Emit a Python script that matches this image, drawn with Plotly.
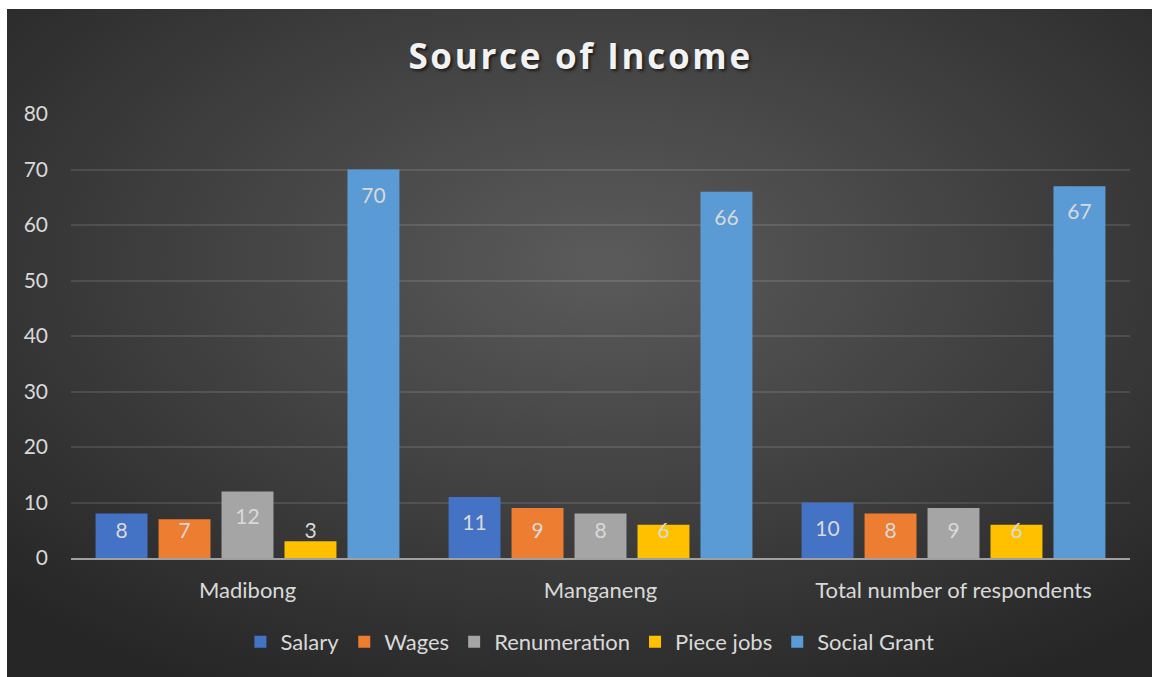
import base64
import plotly.graph_objects as go

categories = ["Madibong", "Manganeng", "Total number of respondents"]
series_names = ["Salary", "Wages", "Renumeration", "Piece jobs", "Social Grant"]
salary = [8, 11, 10]
wages = [7, 9, 8]
renumeration = [12, 8, 9]
piece_jobs = [3, 6, 6]
social_grant = [70, 66, 67]
y_ticks = [0, 10, 20, 30, 40, 50, 60, 70, 80]

values = [salary, wages, renumeration, piece_jobs, social_grant]
colors = ["#4472C4", "#ED7D31", "#A5A5A5", "#FFC000", "#5B9BD5"]

FONT = "Lato"
W, H = 1152, 677
L, R, T, B = 71, 22, 114, 119
pw, ph = W - L - R, H - T - B

fig = go.Figure()
for name, vals, col in zip(series_names, values, colors):
    fig.add_trace(go.Bar(
        x=categories, y=vals, name=name, offsetgroup=name,
        marker=dict(color=col, line=dict(width=0)),
        hoverinfo="x+y+name",
    ))
# data labels (Excel "inside end" style)
for name, vals in zip(series_names, values):
    fig.add_trace(go.Scatter(
        x=categories, y=[max(v - 5.0, 4.5) for v in vals],
        mode="text", text=[str(v) for v in vals], offsetgroup=name,
        textposition="middle center",
        textfont=dict(family=FONT, size=21, color="#d9d9d9"),
        showlegend=False, hoverinfo="skip",
    ))

svg = (
    "<svg xmlns='http://www.w3.org/2000/svg' width='1145' height='668' "
    "viewBox='0 0 1145 668' preserveAspectRatio='none'>"
    "<defs><radialGradient id='g' cx='0.52' cy='0.38' r='0.72'>"
    "<stop offset='0' stop-color='#5b5b5b'/>"
    "<stop offset='1' stop-color='#262626'/>"
    "</radialGradient></defs>"
    "<rect width='1145' height='668' fill='url(#g)'/></svg>"
)
src = "data:image/svg+xml;base64," + base64.b64encode(svg.encode()).decode()

fig.add_layout_image(dict(
    source=src, xref="paper", yref="paper",
    x=(7 - L) / pw, y=(H - B - 9) / ph,
    sizex=(W - 7) / pw, sizey=(H - 9) / ph,
    xanchor="left", yanchor="top", sizing="stretch", layer="below",
))

fig.update_layout(
    width=W, height=H,
    margin=dict(l=L, r=R, t=T, b=B, pad=0),
    paper_bgcolor="white", plot_bgcolor="rgba(0,0,0,0)",
    barmode="group", bargap=0.108, bargroupgap=0.175,
    scattermode="group", scattergap=0.108,
    title=dict(
        text="<span style='letter-spacing:2.7px'><b>Source of Income</b></span>",
        x=0.504, xanchor="center",
        y=1 - 57 / H, yanchor="middle",
        font=dict(family="Open Sans", size=35, color="#f2f2f2",
                  shadow="2px 2px 3px rgba(0,0,0,0.6)"),
    ),
    showlegend=True,
    legend=dict(
        orientation="h", x=0.49, xanchor="center",
        y=(H - B - 642) / ph, yanchor="middle",
        font=dict(family=FONT, size=22, color="#d9d9d9"),
        bgcolor="rgba(0,0,0,0)", itemclick=False, itemdoubleclick=False,
        traceorder="normal", itemwidth=30,
    ),
    font=dict(family=FONT, color="#d9d9d9"),
)
fig.update_xaxes(
    showgrid=False, showline=True, linecolor="#a0a0a0", linewidth=2,
    ticks="", tickfont=dict(family=FONT, size=22, color="#d9d9d9"),
    ticklabelstandoff=12, fixedrange=True,
)
fig.update_yaxes(
    range=[0, 80], tickvals=y_ticks, showgrid=True,
    gridcolor="rgba(255,255,255,0.11)", gridwidth=1.5,
    zeroline=False, showline=False, ticks="",
    tickfont=dict(family=FONT, size=21, color="#d9d9d9"),
    ticklabelstandoff=22, fixedrange=True,
)

fig.write_html("out.html", config={"displayModeBar": False})
